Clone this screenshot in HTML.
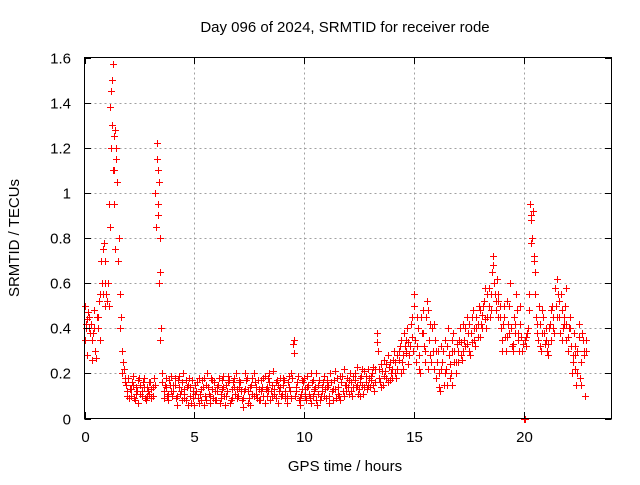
<!DOCTYPE html>
<html><head><meta charset="utf-8"><style>
body{margin:0;background:#fff}
svg text{font-family:"Liberation Sans",sans-serif;font-size:15px;fill:#000}
</style></head><body>
<svg id="chart" width="640" height="480" xmlns="http://www.w3.org/2000/svg">
<rect width="640" height="480" fill="#fff"/>
<g id="grid" shape-rendering="crispEdges"></g>
<g id="pts" shape-rendering="crispEdges"></g>
<rect x="84.5" y="57.5" width="527" height="361" fill="none" stroke="#000" shape-rendering="crispEdges"/>
<g id="ticks"></g>
<text x="345" y="32" text-anchor="middle">Day 096 of 2024, SRMTID for receiver rode</text>
<text x="345" y="471" text-anchor="middle">GPS time / hours</text>
<text transform="translate(19,238) rotate(-90)" text-anchor="middle">SRMTID / TECUs</text>
</svg>
<script>
const xTicks=[0,5,10,15,20];
const yTicks=[0,0.2,0.4,0.6,0.8,1,1.2,1.4,1.6];
const yTickLabels=["0","0.2","0.4","0.6","0.8","1","1.2","1.4","1.6"];
const hourRows=[
[0.50,0.28,0.45,0.42,0.38,0.30,0.45,0.35,0.60,0.78],
[0.55,0.50,1.20,1.57,1.28,1.05,0.55,0.30,0.22,0.15],
[0.18,0.10,0.15,0.08,0.12,0.18,0.10,0.14,0.08,0.12],
[0.16,0.10,0.15,1.22,1.05,0.40,0.12,0.18,0.08,0.15],
[0.10,0.18,0.06,0.14,0.12,0.20,0.08,0.15,0.10,0.17],
[0.06,0.12,0.18,0.08,0.14,0.10,0.20,0.07,0.13,0.16],
[0.08,0.15,0.11,0.19,0.06,0.12,0.17,0.09,0.14,0.20],
[0.10,0.16,0.05,0.13,0.18,0.09,0.15,0.20,0.11,0.17],
[0.08,0.14,0.19,0.10,0.16,0.12,0.21,0.09,0.15,0.18],
[0.11,0.17,0.07,0.14,0.20,0.33,0.10,0.16,0.06,0.13],
[0.18,0.08,0.15,0.20,0.10,0.14,0.06,0.17,0.12,0.19],
[0.09,0.15,0.20,0.08,0.13,0.18,0.10,0.16,0.22,0.12],
[0.14,0.20,0.10,0.17,0.23,0.13,0.19,0.11,0.16,0.22],
[0.14,0.20,0.12,0.38,0.18,0.24,0.15,0.21,0.28,0.17],
[0.22,0.30,0.18,0.26,0.35,0.22,0.32,0.40,0.28,0.36],
[0.55,0.25,0.40,0.20,0.48,0.30,0.52,0.35,0.25,0.42],
[0.18,0.30,0.12,0.25,0.35,0.15,0.28,0.20,0.38,0.25],
[0.30,0.40,0.26,0.35,0.45,0.30,0.38,0.48,0.32,0.42],
[0.36,0.46,0.52,0.40,0.58,0.48,0.72,0.55,0.62,0.45],
[0.35,0.50,0.30,0.42,0.60,0.33,0.38,0.48,0.30,0.36],
[0.00,0.32,0.40,0.95,0.80,0.65,0.38,0.50,0.30,0.45],
[0.35,0.28,0.42,0.50,0.38,0.62,0.45,0.55,0.40,0.50],
[0.30,0.45,0.20,0.38,0.15,0.42,0.25,0.35,0.10]
];
const hourRowsB=[
[0.42,0.47,0.38,0.26,0.40,0.45,0.52,0.70,0.55,0.50],
[0.60,0.85,1.30,1.25,1.20,0.80,0.45,0.25,0.18,0.12],
[0.13,0.16,0.09,0.14,0.17,0.11,0.16,0.09,0.14,0.11],
[0.13,0.18,0.85,1.10,0.80,0.20,0.15,0.10,0.17,0.12],
[0.15,0.09,0.17,0.11,0.16,0.09,0.14,0.18,0.07,0.12],
[0.15,0.09,0.11,0.17,0.06,0.15,0.11,0.18,0.09,0.12],
[0.14,0.07,0.17,0.10,0.15,0.19,0.08,0.16,0.11,0.13],
[0.14,0.08,0.12,0.17,0.07,0.14,0.11,0.16,0.09,0.13],
[0.17,0.10,0.13,0.18,0.08,0.15,0.11,0.17,0.12,0.10],
[0.15,0.09,0.16,0.12,0.18,0.29,0.14,0.08,0.11,0.16],
[0.10,0.14,0.09,0.16,0.12,0.08,0.15,0.10,0.16,0.13],
[0.14,0.10,0.12,0.17,0.09,0.14,0.19,0.12,0.15,0.18],
[0.17,0.12,0.19,0.14,0.11,0.18,0.15,0.21,0.13,0.18],
[0.19,0.15,0.22,0.30,0.16,0.21,0.26,0.18,0.23,0.20],
[0.26,0.20,0.28,0.32,0.25,0.38,0.29,0.34,0.42,0.30],
[0.35,0.45,0.28,0.38,0.32,0.45,0.22,0.42,0.30,0.35],
[0.25,0.20,0.32,0.15,0.22,0.40,0.18,0.30,0.25,0.33],
[0.35,0.28,0.42,0.32,0.38,0.28,0.45,0.35,0.40,0.50],
[0.42,0.50,0.44,0.55,0.45,0.65,0.60,0.48,0.52,0.40],
[0.42,0.36,0.52,0.38,0.32,0.45,0.55,0.35,0.42,0.33],
[0.35,0.38,0.55,0.88,0.70,0.45,0.35,0.42,0.38,0.33],
[0.30,0.40,0.35,0.45,0.50,0.55,0.38,0.48,0.42,0.35],
[0.40,0.32,0.28,0.22,0.30,0.18,0.38,0.30,0.35]
];
const hourRowsC=[
[0.35,0.44,0.40,0.35,0.48,0.27,0.40,0.55,0.75,0.60],
[0.52,0.95,1.45,1.10,1.15,0.70,0.40,0.20,0.16,0.10],
[0.09,0.13,0.19,0.11,0.07,0.15,0.12,0.18,0.10,0.16],
[0.09,0.14,1.00,0.95,0.65,0.16,0.09,0.14,0.11,0.19],
[0.12,0.15,0.10,0.19,0.08,0.13,0.17,0.06,0.14,0.09],
[0.11,0.16,0.07,0.13,0.18,0.08,0.14,0.10,0.17,0.08],
[0.12,0.18,0.09,0.14,0.10,0.16,0.07,0.13,0.18,0.09],
[0.17,0.12,0.09,0.20,0.12,0.06,0.18,0.10,0.14,0.08],
[0.12,0.18,0.07,0.14,0.20,0.10,0.13,0.16,0.07,0.14],
[0.18,0.12,0.10,0.19,0.09,0.35,0.12,0.19,0.09,0.17],
[0.13,0.19,0.11,0.07,0.17,0.20,0.11,0.08,0.14,0.10],
[0.17,0.07,0.16,0.13,0.21,0.11,0.08,0.19,0.10,0.15],
[0.11,0.16,0.14,0.20,0.15,0.10,0.22,0.14,0.19,0.15],
[0.17,0.23,0.16,0.34,0.22,0.14,0.19,0.24,0.16,0.25],
[0.18,0.25,0.22,0.30,0.20,0.28,0.35,0.24,0.32,0.45],
[0.50,0.32,0.22,0.45,0.38,0.25,0.48,0.28,0.40,0.22],
[0.30,0.14,0.22,0.30,0.20,0.32,0.24,0.15,0.30,0.20],
[0.25,0.34,0.30,0.40,0.33,0.42,0.34,0.40,0.45,0.36],
[0.48,0.40,0.58,0.45,0.50,0.55,0.68,0.52,0.45,0.50],
[0.30,0.45,0.36,0.50,0.40,0.30,0.42,0.38,0.50,0.30],
[0.00,0.36,0.48,0.78,0.92,0.55,0.42,0.32,0.48,0.38],
[0.40,0.33,0.48,0.40,0.58,0.45,0.52,0.35,0.45,0.42],
[0.36,0.40,0.25,0.32,0.20,0.36,0.15,0.28,0.30]
];
const extraTimes=[0.05,0.15,0.95,1.15,1.25,1.3,1.35,1.4,3.3,3.35,3.4,3.45,20.05,20.35,20.45,2.05,4.55,6.25,8.35,10.45,12.55,14.65,16.75,18.85,21.95,22.35];
const extraValues=[0.40,0.47,0.70,1.38,1.50,1.10,0.95,0.75,1.15,0.90,0.60,0.35,0.00,0.90,0.72,0.13,0.11,0.13,0.12,0.13,0.16,0.30,0.35,0.55,0.58,0.28];
const X=h=>84.5+h*(527/24), Y=v=>418.5-v*(361/1.6);
const ns="http://www.w3.org/2000/svg";
const grid=document.getElementById('grid'),ticks=document.getElementById('ticks'),pts=document.getElementById('pts');
function ln(p,x1,y1,x2,y2,st,da){const l=document.createElementNS(ns,'line');l.setAttribute('x1',x1);l.setAttribute('y1',y1);l.setAttribute('x2',x2);l.setAttribute('y2',y2);l.setAttribute('stroke',st);if(da)l.setAttribute('stroke-dasharray',da);p.appendChild(l);return l;}
function tx(p,x,y,s,a){const t=document.createElementNS(ns,'text');t.setAttribute('x',x);t.setAttribute('y',y);t.setAttribute('text-anchor',a);t.textContent=s;p.appendChild(t);return t;}
xTicks.forEach(h=>{const x=Math.round(X(h))+0.5;
 if(h>0){const g=ln(grid,x,57.5,x,418.5,'#a0a0a0','2,3');}
 const a=ln(ticks,x,418.5,x,412,'#000');
 const b=ln(ticks,x,57.5,x,64,'#000');
 const t=tx(ticks,x,442,String(h),'middle');});
yTicks.forEach((v,i)=>{const y=Math.round(Y(v))+0.5;
 if(i>0&&i<yTicks.length-1){const g=ln(grid,84.5,y,611.5,y,'#a0a0a0','2,3');}
 const a=ln(ticks,84.5,y,91,y,'#000');
 const b=ln(ticks,611.5,y,605,y,'#000');
 const t=tx(ticks,71,y+5,yTickLabels[i],'end');});
let d='';
function cross(h,v){const x=Math.round(X(h))+0.5,y=Math.round(Y(v))+0.5;d+=`M${x-3.5} ${y}H${x+3.5}M${x} ${y-3.5}V${y+3.5}`;}
hourRows.forEach((row,hr)=>row.forEach((v,j)=>cross(hr+j/10,v)));
hourRowsB.forEach((row,hr)=>row.forEach((v,j)=>cross(hr+j/10+0.05,v)));
hourRowsC.forEach((row,hr)=>row.forEach((v,j)=>cross(hr+j/10+0.025,v)));
extraTimes.forEach((h,i)=>cross(h,extraValues[i]));
const p=document.createElementNS(ns,'path');p.setAttribute('d',d);p.setAttribute('stroke','#ff0000');p.setAttribute('fill','none');


pts.appendChild(p);
</script>
</body></html>
